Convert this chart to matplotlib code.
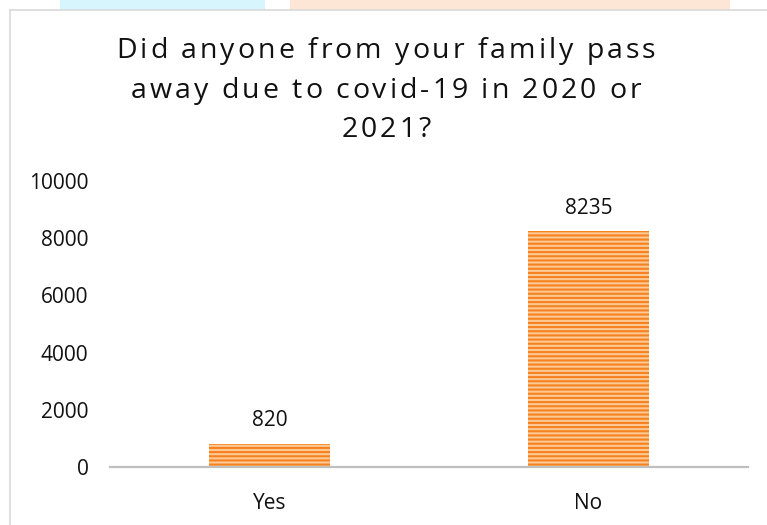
import matplotlib.pyplot as plt
from matplotlib.lines import Line2D
from matplotlib.patches import Rectangle

plt.rcParams['font.family'] = ['Open Sans', 'DejaVu Sans']
plt.rcParams['hatch.linewidth'] = 1.5

categories = ["Yes", "No"]
counts = [820, 8235]
title_lines = ["Did anyone from your family pass",
               "away due to covid-19 in 2020 or",
               "2021?"]

W, H = 767, 525
fig = plt.figure(figsize=(W / 100, H / 100), dpi=100)

# faint bits of the page background peeking over the chart frame
fig.add_artist(Rectangle((60 / W, 1 - 10 / H), 205 / W, 10 / H, transform=fig.transFigure,
                         facecolor="#d6f5fc", edgecolor="none"))
fig.add_artist(Rectangle((290 / W, 1 - 10 / H), 440 / W, 10 / H, transform=fig.transFigure,
                         facecolor="#fde6d6", edgecolor="none"))

# chart border (left and top only visible)
fig.add_artist(Line2D([10 / W, 10 / W], [0, 1 - 10 / H], transform=fig.transFigure,
                      color="#d9d9d9", lw=1.2))
fig.add_artist(Line2D([10 / W, 1], [1 - 10 / H, 1 - 10 / H], transform=fig.transFigure,
                      color="#d9d9d9", lw=1.2))

ax = fig.add_axes([110 / W, (H - 467) / H, 638 / W, 286 / H])

x = range(len(categories))
bars = ax.bar(x, counts, width=0.38, facecolor="#fcc995", edgecolor="#f5821f",
              linewidth=0, hatch="----")

for b, v in zip(bars, counts):
    ax.annotate(str(v), (b.get_x() + b.get_width() / 2, v), xytext=(0, 9),
                textcoords="offset points", ha="center", va="bottom",
                fontsize=15, color="#111111")

ax.set_xlim(-0.5, 1.5)
ax.set_ylim(0, 10000)
ax.set_yticks([0, 2000, 4000, 6000, 8000, 10000])
ax.set_xticks(list(x))
ax.set_xticklabels(categories)
ax.tick_params(axis="both", length=0, labelsize=15, labelcolor="#111111")
ax.tick_params(axis="y", pad=15.5)
ax.tick_params(axis="x", pad=19)

for s in ["top", "right", "left"]:
    ax.spines[s].set_visible(False)
ax.spines["bottom"].set_color("#bfbfbf")
ax.spines["bottom"].set_linewidth(1.6)

# title drawn with letter spacing, one character at a time
renderer = fig.canvas.get_renderer()
tsize = 20.5
center_x = 386
first_line_width = 539
baselines = [58, 98, 137]


def text_width(s):
    t = fig.text(0, 0, s, fontsize=tsize)
    w = t.get_window_extent(renderer).width
    t.remove()
    return w


base = text_width("aa")
char_w = [[text_width("a" + ch + "a") - base for ch in line] for line in title_lines]
tracking = (first_line_width - sum(char_w[0])) / (len(title_lines[0]) - 1)

for line, widths, yb in zip(title_lines, char_w, baselines):
    total = sum(widths) + tracking * (len(line) - 1)
    cx = center_x - total / 2
    for ch, w in zip(line, widths):
        if ch != " ":
            fig.text(cx / W, 1 - yb / H, ch, fontsize=tsize, color="#111111",
                     ha="left", va="baseline")
        cx += w + tracking

fig.savefig("out.png", dpi=100, facecolor="white")
